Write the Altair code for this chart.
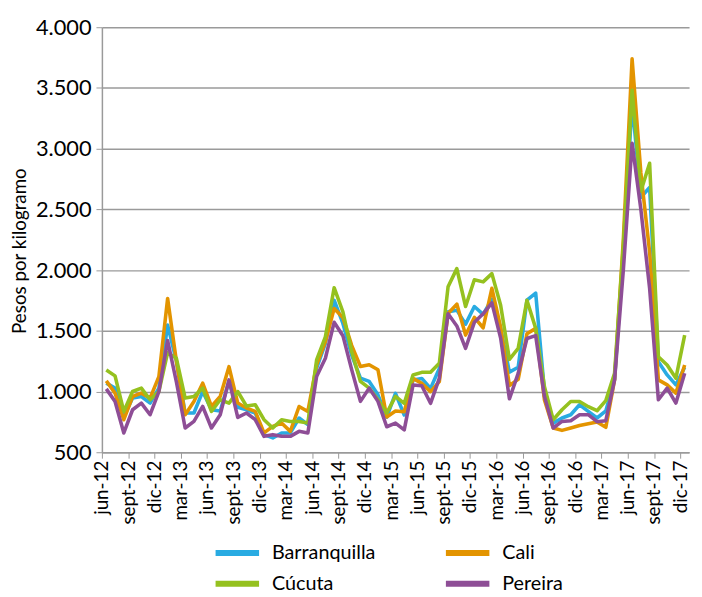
import altair as alt
import pandas as pd

# ---- data ----
tick_labels = ["jun-12", "sept-12", "dic-12", "mar-13", "jun-13", "sept-13", "dic-13",
               "mar-14", "jun-14", "sept-14", "dic-14", "mar-15", "jun-15", "sept-15",
               "dic-15", "mar-16", "jun-16", "sept-16", "dic-16", "mar-17", "jun-17",
               "sept-17", "dic-17"]

series_names = ["Barranquilla", "Cali", "Cúcuta", "Pereira"]
series_colors = ["#29ABE2", "#E39400", "#95C11F", "#8E4E96"]

barranquilla = [1069, 1028, 790, 946, 959, 905, 1028, 1547, 1250, 823, 823, 1000, 850, 840,
                1082, 870, 850, 823, 645, 618, 659, 659, 782, 727, 1192, 1397, 1752, 1561,
                1300, 1110, 1083, 973, 790, 985, 807, 1095, 1108, 1026, 1190, 1656, 1670,
                1555, 1700, 1635, 1760, 1520, 1160, 1200, 1752, 1810, 1000, 740, 782, 809,
                891, 836, 782, 840, 1100, 2150, 3380, 2600, 2680, 1246, 1137, 1055, 1200]

cali = [1088, 987, 768, 959, 987, 946, 1123, 1766, 1250, 809, 918, 1069, 877, 959,
        1205, 905, 864, 836, 659, 713, 741, 672, 877, 836, 1219, 1410, 1684, 1610,
        1380, 1206, 1220, 1179, 790, 840, 834, 1108, 1067, 999, 1081, 1643, 1720,
        1465, 1610, 1525, 1850, 1530, 1050, 1100, 1475, 1520, 930, 700, 680, 700,
        720, 735, 750, 705, 1096, 2250, 3740, 2800, 2150, 1096, 1055, 987, 1219]

cucuta = [1178, 1129, 836, 1000, 1028, 932, 1000, 1320, 1274, 946, 959, 1028, 836, 932,
          905, 1000, 880, 891, 768, 700, 768, 754, 754, 741, 1260, 1451, 1855, 1656,
          1330, 1083, 1028, 932, 823, 960, 903, 1136, 1158, 1158, 1232, 1862, 2012,
          1700, 1920, 1903, 1971, 1711, 1265, 1356, 1752, 1520, 1040, 768, 850, 918,
          918, 875, 842, 925, 1150, 2200, 3480, 2650, 2880, 1287, 1219, 1110, 1465]

pereira = [1022, 918, 659, 850, 905, 809, 1000, 1420, 1080, 700, 754, 877, 700, 809,
           1096, 787, 823, 768, 631, 645, 631, 631, 672, 659, 1123, 1274, 1570, 1460,
           1180, 919, 1028, 919, 710, 740, 684, 1053, 1048, 903, 1108, 1640, 1540,
           1356, 1570, 1640, 1730, 1440, 940, 1150, 1437, 1460, 960, 700, 754, 760,
           809, 809, 752, 760, 1096, 2000, 3045, 2500, 1850, 932, 1028, 905, 1151]

y_ticks = [500, 1000, 1500, 2000, 2500, 3000, 3500, 4000]

# ---- table ----
rows = []
for name, vals in zip(series_names, [barranquilla, cali, cucuta, pereira]):
    for i, v in enumerate(vals):
        rows.append({"mes": i, "serie": name, "precio": v})
df = pd.DataFrame(rows)
n = len(barranquilla)

tick_vals = [k * 3 - 0.5 for k in range(len(tick_labels))]
label_arr = "[" + ",".join("'" + t + "'" for t in tick_labels) + "]"
x_label_expr = label_arr + "[round((datum.value + 0.5) / 3)]"

FONT = "Lato"
GRID = "#9a9a9a"

chart = alt.Chart(df).mark_line(strokeWidth=3.6, strokeJoin="round").encode(
    x=alt.X(
        "mes:Q",
        scale=alt.Scale(domain=[-0.5, n - 0.5], nice=False, zero=False),
        axis=alt.Axis(
            values=tick_vals, labelExpr=x_label_expr, grid=False, title=None,
            labelAngle=270, labelAlign="right", labelBaseline="middle",
            tickSize=6, tickColor=GRID, domainColor=GRID, domainWidth=1.5,
            labelFontSize=19, labelColor="#000", labelPadding=2, labelFont=FONT,
            labelOverlap=False, labelFlush=False,
        ),
    ),
    y=alt.Y(
        "precio:Q",
        scale=alt.Scale(domain=[500, 4000], nice=False, zero=False),
        axis=alt.Axis(
            values=y_ticks,
            labelExpr="replace(format(datum.value, ','), ',', '.')",
            title="Pesos por kilogramo", titleFont=FONT, titleFontSize=19,
            titleFontWeight="normal", titleColor="#000", titleAngle=270,
            titleX=-77, titleY=226, titleAlign="center", titleBaseline="alphabetic",
            gridColor=GRID, gridWidth=1.5, tickSize=6, tickColor=GRID,
            domainColor=GRID, domainWidth=1.5,
            labelFontSize=22, labelColor="#000", labelFont=FONT, labelPadding=5,
        ),
    ),
    color=alt.Color(
        "serie:N",
        scale=alt.Scale(domain=series_names, range=series_colors),
        legend=alt.Legend(
            title=None, orient="none", direction="horizontal",
            legendX=112, legendY=518, columns=2,
            symbolType="stroke", symbolSize=1936, symbolStrokeWidth=6,
            labelFontSize=20, labelFont=FONT, labelColor="#000", labelOffset=10,
            columnPadding=68, rowPadding=3, clipHeight=28,
        ),
    ),
).properties(
    width=594, height=430,
    padding={"left": 95, "top": 16, "right": 5, "bottom": 143},
    autosize=alt.AutoSizeParams(type="none"),
).configure_view(stroke=None)

chart.save("out.html", embed_options={"renderer": "svg", "actions": False})
